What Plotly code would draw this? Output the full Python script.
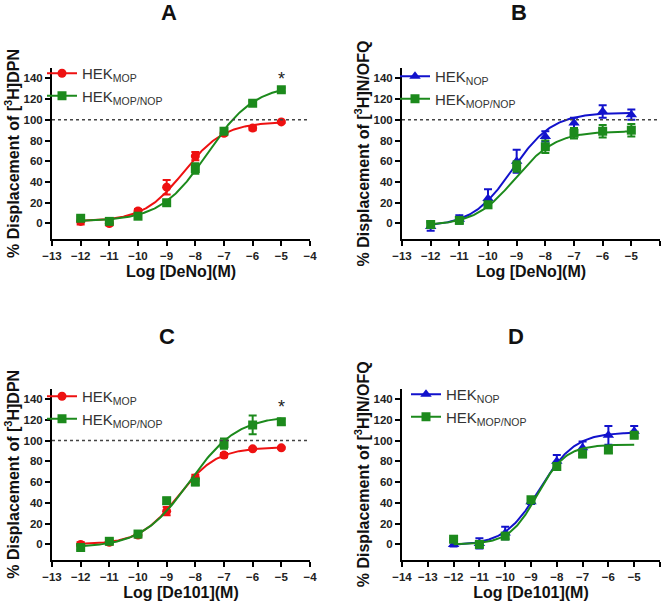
import numpy as np
import plotly.graph_objects as go

W, H = 665, 603

# ---------------- data ----------------
log_conc = [-12, -11, -10, -9, -8, -7, -6, -5]

# Panel A  (DeNo, [3H]DPN)
A_mop = [2, 0, 12, 35, 65, 87, 92, 98]
A_mop_err = [3, 2, 2, 7, 4, 2, 2, 1]
A_mopnop = [5, 2, 7, 20, 53, 89, 116, 129]
A_mopnop_err = [2, 2, 2, 2, 5, 2, 2, 2]
A_fit_mop = [2, 98, -8.40, 0.62]       # bottom, top, logEC50, hill
A_fit_mopnop = [2, 134, -7.57, 0.53]

# Panel B  (DeNo, [3H]N/OFQ)
B_nop = [-3, 4, 24, 60, 84, 97, 108, 105]
B_nop_err = [4, 4, 9, 11, 5, 5, 6, 5]
B_mopnop = [-1, 3, 18, 55, 74, 87, 89, 90]
B_mopnop_err = [3, 3, 3, 5, 6, 5, 6, 6]
B_fit_nop = [-3, 107, -9.15, 0.62]
B_fit_mopnop = [-2, 89, -9.05, 0.62]

# Panel C  (De101, [3H]DPN)
C_mop = [0, 2, 9, 32, 64, 86, 92, 93]
C_mop_err = [2, 2, 2, 4, 3, 2, 1, 1]
C_mopnop = [-3, 3, 10, 42, 60, 97, 115, 118]
C_mopnop_err = [2, 2, 3, 3, 3, 5, 9, 3]
C_fit_mop = [0, 93.5, -8.6, 0.65]
C_fit_mopnop = [-3, 124, -8.2, 0.52]

# Panel D  (De101, [3H]N/OFQ)
D_nop = [0, 1, 11, 41, 80, 93, 105, 109]
D_nop_err = [2, 5, 6, 2, 6, 6, 9, 5]
D_mopnop = [5, 0, 8, 43, 75, 87, 91, 105]
D_mopnop_err = [1, 2, 3, 2, 3, 3, 3, 2]
D_fit_nop = [-1, 108, -8.66, 0.64]
D_fit_mopnop = [0, 96, -8.75, 0.8]

REF_LINE = 100
SIG_Y_A = 139
SIG_Y_C = 132

x_ticks_ABC = list(range(-13, -3))
x_ticks_D = list(range(-14, -3))
y_ticks = list(range(0, 141, 20))

RED = "#ee1111"
GREEN = "#1c8a1c"
BLUE = "#1212cc"
FONT = "Liberation Sans, Arial, sans-serif"


def logistic(x, p):
    bottom, top, logec50, hill = p
    return bottom + (top - bottom) / (1 + 10 ** ((logec50 - x) * hill))


xfit = np.linspace(min(log_conc), max(log_conc), 200)

fig = go.Figure()

panels = [
    ("x", "y", "legend", [
        ("HEK<sub>MOP</sub>", A_mop, A_mop_err, A_fit_mop, RED, "circle", 9),
        ("HEK<sub>MOP/NOP</sub>", A_mopnop, A_mopnop_err, A_fit_mopnop, GREEN, "square", 9),
    ]),
    ("x2", "y2", "legend2", [
        ("HEK<sub>NOP</sub>", B_nop, B_nop_err, B_fit_nop, BLUE, "triangle-up", 10),
        ("HEK<sub>MOP/NOP</sub>", B_mopnop, B_mopnop_err, B_fit_mopnop, GREEN, "square", 9),
    ]),
    ("x3", "y3", "legend3", [
        ("HEK<sub>MOP</sub>", C_mop, C_mop_err, C_fit_mop, RED, "circle", 9),
        ("HEK<sub>MOP/NOP</sub>", C_mopnop, C_mopnop_err, C_fit_mopnop, GREEN, "square", 9),
    ]),
    ("x4", "y4", "legend4", [
        ("HEK<sub>NOP</sub>", D_nop, D_nop_err, D_fit_nop, BLUE, "triangle-up", 10),
        ("HEK<sub>MOP/NOP</sub>", D_mopnop, D_mopnop_err, D_fit_mopnop, GREEN, "square", 9),
    ]),
]

for xa, ya, lg, series in panels:
    for name, vals, err, fit, col, sym, ms in series:
        fig.add_trace(go.Scatter(
            x=xfit, y=logistic(xfit, fit), mode="lines",
            line=dict(color=col, width=2), xaxis=xa, yaxis=ya,
            showlegend=False, hoverinfo="skip"))
        fig.add_trace(go.Scatter(
            x=log_conc, y=vals, mode="markers",
            marker=dict(color=col, symbol=sym, size=ms),
            error_y=dict(type="data", array=err, color=col, thickness=2, width=4),
            xaxis=xa, yaxis=ya, showlegend=False))
        fig.add_trace(go.Scatter(
            x=[None], y=[None], mode="lines+markers", name=name,
            line=dict(color=col, width=2),
            marker=dict(color=col, symbol=sym, size=ms),
            xaxis=xa, yaxis=ya, legend=lg, showlegend=True))

for xa, ya, ticks in [("x", "y", x_ticks_ABC), ("x2", "y2", x_ticks_ABC), ("x3", "y3", x_ticks_ABC)]:
    fig.add_trace(go.Scatter(
        x=[min(ticks), max(ticks)], y=[REF_LINE, REF_LINE], mode="lines",
        line=dict(color="#444444", width=1.5, dash="dot"),
        xaxis=xa, yaxis=ya, showlegend=False, hoverinfo="skip"))


def fx(p):
    return p / W


def fy(p):
    return 1 - p / H


def px_x(a, b):
    return [fx(a), fx(b)]


def px_y(top, bottom):
    return [fy(bottom), fy(top)]


tickfont = dict(family=FONT, size=11.5, color="#222222", weight="bold")
axis_common = dict(showline=True, linecolor="black", linewidth=2, ticks="outside",
                   ticklen=5, tickwidth=2, tickcolor="black", showgrid=False,
                   zeroline=False, tickfont=tickfont, fixedrange=True, automargin=False)

xtitles = ["Log [DeNo](M)", "Log [DeNo](M)", "Log [De101](M)", "Log [De101](M)"]
ytitles = ["% Displacement of [<sup>3</sup>H]DPN", "% Displacement of [<sup>3</sup>H]N/OFQ",
           "% Displacement of [<sup>3</sup>H]DPN", "% Displacement of [<sup>3</sup>H]N/OFQ"]
xdoms = [px_x(52, 310), px_x(402, 660), px_x(52, 310), px_x(402, 660)]
ydoms = [px_y(68, 239), px_y(68, 239), px_y(388.6, 560), px_y(388.6, 560)]
xticksets = [x_ticks_ABC, x_ticks_ABC, x_ticks_ABC, x_ticks_D]

layout_axes = {}
for i in range(4):
    xs = "xaxis" if i == 0 else f"xaxis{i+1}"
    ys = "yaxis" if i == 0 else f"yaxis{i+1}"
    yref = "y" if i == 0 else f"y{i+1}"
    xref = "x" if i == 0 else f"x{i+1}"
    ticks = xticksets[i]
    layout_axes[xs] = dict(axis_common, domain=xdoms[i], anchor=yref,
                           range=[min(ticks), max(ticks)], tickvals=ticks,
                           title=dict(text=xtitles[i], standoff=5,
                                      font=dict(family=FONT, size=16, color="#111111", weight="bold")))
    layout_axes[ys] = dict(axis_common, domain=ydoms[i], anchor=xref,
                           range=[-15, 150], tickvals=y_ticks,
                           title=dict(text=ytitles[i], standoff=0,
                                      font=dict(family=FONT, size=16, color="#111111", weight="bold")))

legend_common = dict(bgcolor="rgba(0,0,0,0)", borderwidth=0, xanchor="left", yanchor="top",
                     font=dict(family=FONT, size=15, color="#333333"), tracegroupgap=0,
                     itemclick=False, itemdoubleclick=False)

fig.update_layout(
    width=W, height=H,
    margin=dict(l=0, r=0, t=0, b=0, autoexpand=False),
    paper_bgcolor="white", plot_bgcolor="white",
    showlegend=True,
    legend=dict(legend_common, x=fx(42), y=fy(57)),
    legend2=dict(legend_common, x=fx(395), y=fy(60)),
    legend3=dict(legend_common, x=fx(42), y=fy(380)),
    legend4=dict(legend_common, x=fx(406), y=fy(378)),
    **layout_axes,
)

titles = [("A", 169, 12), ("B", 519, 12), ("C", 167, 336), ("D", 516, 336)]
for t, x, y in titles:
    fig.add_annotation(text=t, x=fx(x), y=fy(y), xref="paper", yref="paper",
                       showarrow=False, xanchor="center", yanchor="middle",
                       font=dict(family=FONT, size=22, color="#111111", weight="bold"))

for xr, yr, yv in [("x", "y", SIG_Y_A), ("x3", "y3", SIG_Y_C)]:
    fig.add_annotation(text="*", x=max(log_conc), y=yv, xref=xr, yref=yr,
                       showarrow=False, yanchor="middle",
                       font=dict(family=FONT, size=18, color="#222222"))

fig.write_html(
    "out.html",
    config={"displayModeBar": False},
    post_script="document.body.style.margin='0';document.body.style.overflow='hidden';",
)
